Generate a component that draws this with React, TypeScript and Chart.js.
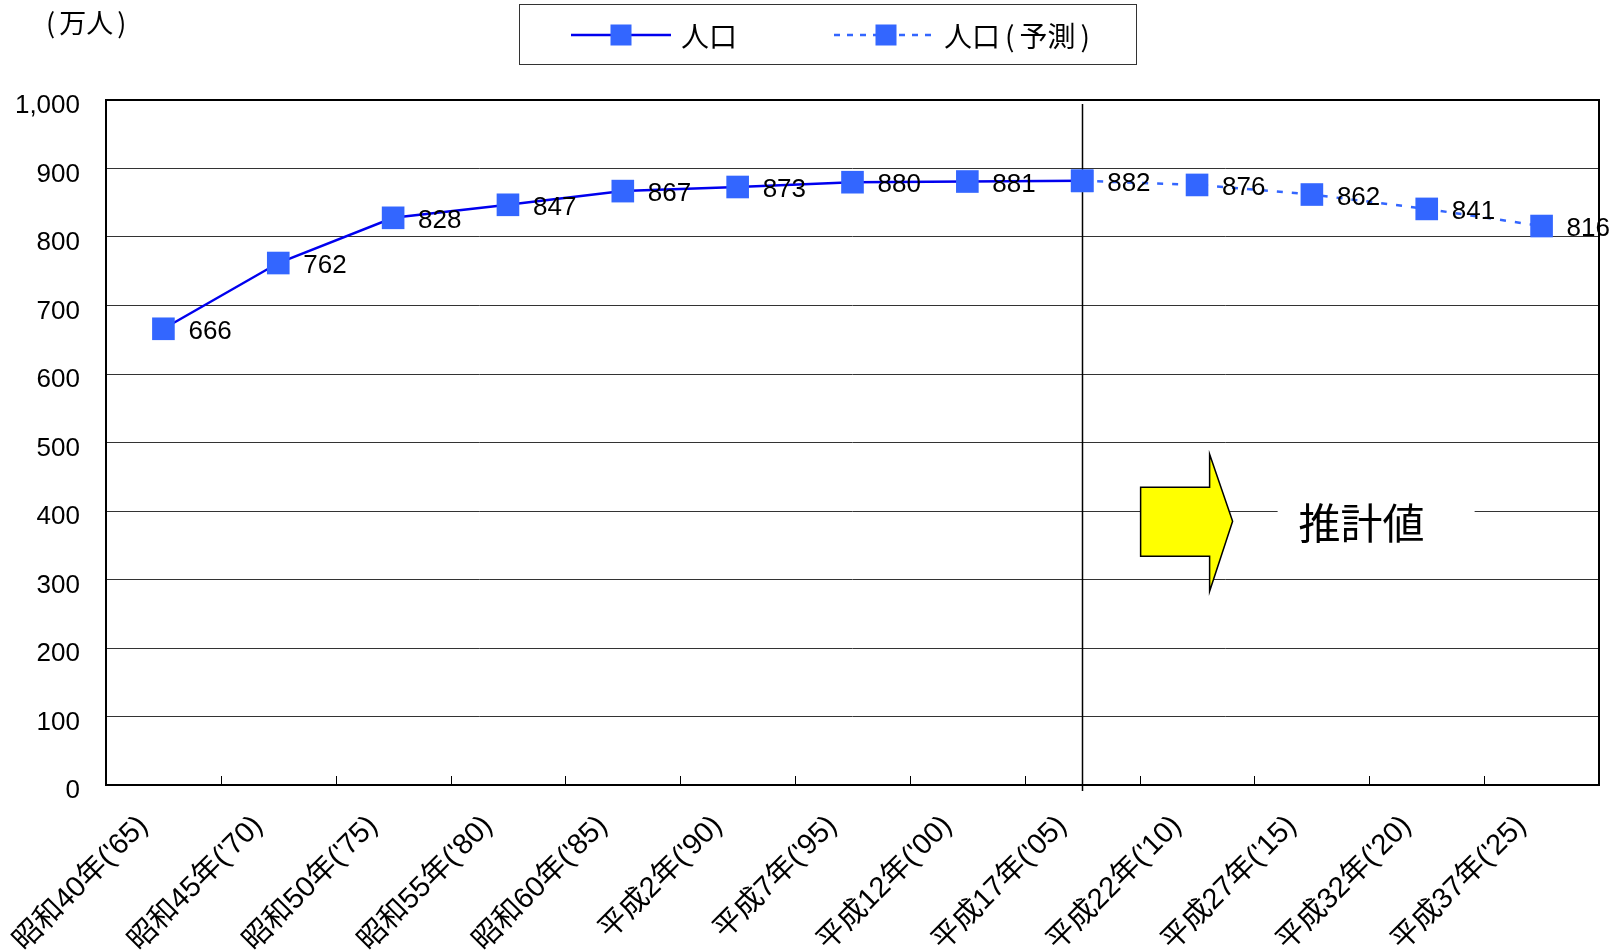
import React, { useEffect, useRef } from 'react';
import { Chart, registerables } from 'chart.js';

Chart.register(...registerables);

const categories = [
  "昭和40年('65)", "昭和45年('70)", "昭和50年('75)", "昭和55年('80)", "昭和60年('85)",
  "平成2年('90)", "平成7年('95)", "平成12年('00)", "平成17年('05)",
  "平成22年('10)", "平成27年('15)", "平成32年('20)", "平成37年('25)",
];
const actualValues = [666, 762, 828, 847, 867, 873, 880, 881, 882, null, null, null, null];
const forecastValues = [null, null, null, null, null, null, null, null, 882, 876, 862, 841, 816];
const yMin = 0;
const yMax = 1000;
const yStep = 100;
const dividerIndex = 8;
const unitParts = ['(', '万人', ')'];
const legendLabels = ['人口', '人口(予測)'];
const forecastParts = ['人口', '(', '予測', ')'];
const forecastNote = '推計値';

const LATIN = "'Liberation Sans', Arial, 'Noto Sans CJK JP', sans-serif";
const CJK = "'Noto Sans CJK JP', 'Liberation Sans', sans-serif";
const LINE_BLUE = '#0000EE';
const MARK_BLUE = '#3366FF';

function drawParts(ctx: any, parts: string[], x: number, y: number, gap: number) {
  let cx = x;
  for (const p of parts) {
    ctx.fillText(p, cx, y);
    cx += ctx.measureText(p).width + gap;
  }
}

const overlay = {
  id: 'overlay',
  beforeDatasetsDraw(chart: any) {
    const { ctx, chartArea: a, scales } = chart;
    const x = scales.x;
    const y = scales.y;
    ctx.save();
    // x tick marks at category boundaries (pointing up)
    ctx.strokeStyle = '#000';
    ctx.lineWidth = 1;
    for (let i = 0; i < categories.length - 1; i++) {
      const px = Math.round(x.getPixelForValue(i + 0.5)) + 0.5;
      ctx.beginPath();
      ctx.moveTo(px, a.bottom);
      ctx.lineTo(px, a.bottom - 9);
      ctx.stroke();
    }
    // divider
    const vx = Math.round(x.getPixelForValue(dividerIndex)) + 0.5;
    ctx.lineWidth = 1.5;
    ctx.beginPath();
    ctx.moveTo(vx, a.top + 4);
    ctx.lineTo(vx, a.bottom + 6);
    ctx.stroke();

    // text box with note
    const bx0 = x.getPixelForValue(dividerIndex + 0.5);
    const cy = y.getPixelForValue(385);
    ctx.fillStyle = '#fff';
    ctx.fillRect(bx0 + 138, cy - 33, 197, 66);
    ctx.fillStyle = '#000';
    ctx.font = `42px ${CJK}`;
    ctx.textAlign = 'center';
    ctx.textBaseline = 'middle';
    ctx.fillText(forecastNote, bx0 + 222, cy + 2);

    // arrow
    ctx.beginPath();
    ctx.moveTo(bx0 + 1, cy - 34);
    ctx.lineTo(bx0 + 70, cy - 34);
    ctx.lineTo(bx0 + 70, cy - 67);
    ctx.lineTo(bx0 + 93, cy);
    ctx.lineTo(bx0 + 70, cy + 70);
    ctx.lineTo(bx0 + 70, cy + 35);
    ctx.lineTo(bx0 + 1, cy + 35);
    ctx.closePath();
    ctx.fillStyle = '#FFFF00';
    ctx.fill();
    ctx.strokeStyle = '#000';
    ctx.lineWidth = 1.5;
    ctx.stroke();
    ctx.restore();
  },
  afterDatasetsDraw(chart: any) {
    const { ctx, chartArea: a, scales } = chart;
    const x = scales.x;
    const y = scales.y;
    ctx.save();
    // data labels
    ctx.font = `26px ${LATIN}`;
    ctx.fillStyle = '#000';
    ctx.textAlign = 'left';
    ctx.textBaseline = 'middle';
    for (let i = 0; i < categories.length; i++) {
      const v = actualValues[i] ?? forecastValues[i];
      if (v == null) continue;
      ctx.fillText(String(v), x.getPixelForValue(i) + 25, y.getPixelForValue(v) + 3);
    }
    // plot border
    ctx.strokeStyle = '#000';
    ctx.lineWidth = 2;
    ctx.strokeRect(a.left, a.top, a.right - a.left, a.bottom - a.top);

    // unit label
    ctx.font = `27px ${CJK}`;
    ctx.textBaseline = 'middle';
    drawParts(ctx, unitParts, 46, 23, 4);

    // legend
    ctx.strokeStyle = '#333';
    ctx.lineWidth = 1;
    ctx.strokeRect(519.5, 4.5, 617, 60);
    const ly = 35;
    ctx.strokeStyle = LINE_BLUE;
    ctx.lineWidth = 2.5;
    ctx.beginPath();
    ctx.moveTo(571, ly);
    ctx.lineTo(671, ly);
    ctx.stroke();
    ctx.fillStyle = MARK_BLUE;
    ctx.fillRect(621 - 10.5, ly - 10.5, 21, 21);
    ctx.strokeStyle = MARK_BLUE;
    ctx.setLineDash([6, 7]);
    ctx.beginPath();
    ctx.moveTo(834, ly);
    ctx.lineTo(931, ly);
    ctx.stroke();
    ctx.setLineDash([]);
    ctx.fillRect(886 - 10.5, ly - 10.5, 21, 21);
    ctx.fillStyle = '#000';
    ctx.font = `28px ${CJK}`;
    ctx.fillText(legendLabels[0], 681, ly + 1);
    drawParts(ctx, forecastParts, 944, ly + 1, 5);
    ctx.restore();
  },
};

export default function App() {
  const ref = useRef<HTMLCanvasElement>(null);
  useEffect(() => {
    if (!ref.current) return;
    const chart = new Chart(ref.current, {
      type: 'line',
      data: {
        labels: categories,
        datasets: [
          {
            label: legendLabels[0],
            data: actualValues,
            borderColor: LINE_BLUE,
            borderWidth: 2.5,
            pointStyle: 'rect',
            pointRadius: 16,
            pointBackgroundColor: MARK_BLUE,
            pointBorderColor: MARK_BLUE,
            pointBorderWidth: 0,
            tension: 0,
          },
          {
            label: legendLabels[1],
            data: forecastValues,
            borderColor: MARK_BLUE,
            borderDash: [6, 9],
            borderWidth: 2.5,
            pointStyle: 'rect',
            pointRadius: 16,
            pointBackgroundColor: MARK_BLUE,
            pointBorderColor: MARK_BLUE,
            pointBorderWidth: 0,
            tension: 0,
          },
        ],
      },
      options: {
        responsive: false,
        animation: false,
        layout: { padding: { top: 100, right: 20, left: 0, bottom: 0 } },
        plugins: { legend: { display: false }, tooltip: { enabled: false } },
        scales: {
          x: {
            offset: true,
            grid: { display: false, offset: true },
            border: { display: false },
            ticks: {
              autoSkip: false,
              maxRotation: 45,
              minRotation: 45,
              color: '#000',
              font: { size: 29, family: LATIN },
              padding: 16,
              labelOffset: -20,
            },
            afterFit: (s: any) => { s.height = 167; },
          },
          y: {
            min: yMin,
            max: yMax,
            grid: { color: '#333', lineWidth: 1, drawTicks: false },
            border: { display: false },
            ticks: {
              stepSize: yStep,
              color: '#000',
              font: { size: 26, family: LATIN },
              padding: 26,
              labelOffset: 6,
              callback: (v: any) => Number(v).toLocaleString('en-US'),
            },
            afterFit: (s: any) => { s.width = 106; },
          },
        },
      },
      plugins: [overlay],
    });
    return () => chart.destroy();
  }, []);
  return (
    <div style={{ position: 'fixed', left: 0, top: 0, width: 1619, height: 952, background: '#fff' }}>
      <canvas ref={ref} width={1619} height={952} style={{ display: 'block' }} />
    </div>
  );
}
